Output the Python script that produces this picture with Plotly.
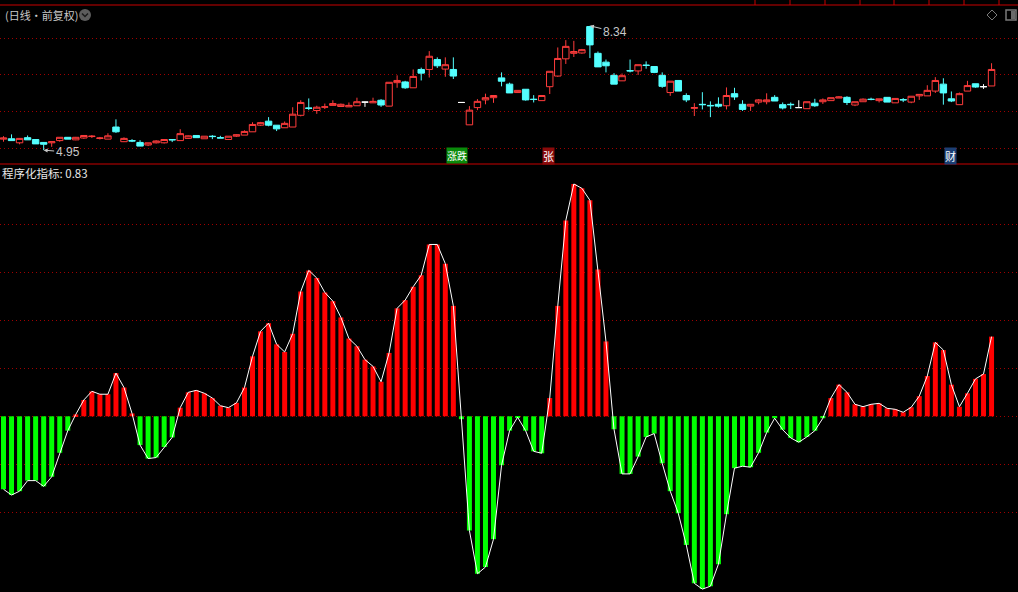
import plotly.graph_objects as go

W, H = 1018, 592

# ---------------- data ----------------
opens = [5.25, 5.26, 5.15, 5.29, 5.24, 5.16, 5.15, 5.21, 5.30, 5.23,
         5.28, 5.32, 5.27, 5.25, 5.58, 5.18, 5.21, 5.16, 5.09, 5.15,
         5.15, 5.24, 5.21, 5.27, 5.35, 5.26, 5.33, 5.29, 5.24, 5.33,
         5.36, 5.45, 5.63, 5.74, 5.63, 5.56, 5.58, 5.90, 6.10, 6.03,
         6.12, 6.17, 6.14, 6.13, 6.16, 6.26, 6.24, 6.31, 6.15, 6.79,
         6.81, 6.65, 7.15, 7.15, 7.42, 7.16, 7.15, 6.25, 5.64, 6.11,
         6.32, 6.38, 6.92, 6.75, 6.52, 6.61, 6.34, 6.30, 6.68, 6.97,
         7.44, 7.59, 7.60, 8.32, 7.59, 7.35, 6.99, 6.84, 7.12, 7.11,
         7.27, 7.23, 6.99, 6.52, 6.85, 6.44, 6.09, 6.20, 6.17, 6.20,
         6.16, 6.49, 6.20, 6.15, 6.26, 6.27, 6.39, 6.19, 6.20, 6.11,
         6.08, 6.23, 6.27, 6.30, 6.37, 6.39, 6.18, 6.27, 6.34, 6.30,
         6.39, 6.24, 6.33, 6.26, 6.43, 6.43, 6.56, 6.75, 6.35, 6.19,
         6.56, 6.76, 6.68, 6.70]
highs = [5.33, 5.38, 5.27, 5.35, 5.24, 5.17, 5.18, 5.30, 5.30, 5.31,
         5.36, 5.36, 5.31, 5.41, 5.79, 5.30, 5.25, 5.22, 5.15, 5.22,
         5.24, 5.24, 5.52, 5.35, 5.36, 5.33, 5.36, 5.34, 5.33, 5.38,
         5.49, 5.71, 5.72, 5.85, 5.63, 5.73, 6.12, 6.31, 6.36, 6.16,
         6.22, 6.31, 6.22, 6.25, 6.38, 6.27, 6.38, 6.34, 6.80, 6.99,
         6.84, 7.15, 7.20, 7.65, 7.48, 7.48, 7.48, 6.25, 6.15, 6.34,
         6.49, 6.44, 7.07, 6.79, 6.58, 6.61, 6.45, 6.44, 7.10, 7.75,
         7.95, 7.93, 7.71, 8.34, 7.64, 7.42, 7.05, 7.04, 7.42, 7.28,
         7.37, 7.23, 7.07, 6.83, 6.85, 6.50, 6.23, 6.53, 6.28, 6.39,
         6.66, 6.65, 6.31, 6.20, 6.34, 6.50, 6.45, 6.25, 6.25, 6.31,
         6.27, 6.35, 6.36, 6.38, 6.42, 6.42, 6.27, 6.36, 6.38, 6.35,
         6.39, 6.36, 6.37, 6.42, 6.47, 6.72, 6.94, 6.91, 6.55, 6.52,
         6.84, 6.76, 6.75, 7.32]
lows = [5.18, 5.21, 5.11, 5.23, 5.12, 4.95, 5.04, 5.18, 5.25, 5.22,
        5.26, 5.28, 5.24, 5.25, 5.42, 5.17, 5.17, 5.06, 5.06, 5.13,
        5.13, 5.17, 5.21, 5.26, 5.29, 5.26, 5.25, 5.28, 5.24, 5.31,
        5.36, 5.45, 5.61, 5.60, 5.47, 5.56, 5.58, 5.87, 6.04, 5.94,
        6.07, 6.17, 6.13, 6.13, 6.16, 6.13, 6.24, 6.13, 6.15, 6.65,
        6.62, 6.65, 6.85, 6.93, 7.19, 6.95, 6.89, 6.25, 5.64, 6.04,
        6.20, 6.24, 6.69, 6.51, 6.52, 6.30, 6.25, 6.30, 6.48, 6.95,
        7.30, 7.49, 7.58, 7.46, 7.22, 7.07, 6.75, 6.84, 7.07, 7.00,
        7.17, 7.05, 6.65, 6.43, 6.56, 6.26, 5.88, 6.06, 5.85, 6.11,
        6.06, 6.32, 6.02, 6.02, 6.20, 6.20, 6.29, 6.06, 6.07, 6.11,
        6.08, 6.13, 6.21, 6.30, 6.37, 6.18, 6.15, 6.27, 6.31, 6.25,
        6.26, 6.24, 6.26, 6.23, 6.32, 6.43, 6.51, 6.19, 6.26, 6.19,
        6.56, 6.65, 6.62, 6.70]
closes = [5.28, 5.21, 5.27, 5.23, 5.12, 5.11, 5.18, 5.30, 5.25, 5.30,
          5.35, 5.33, 5.28, 5.34, 5.45, 5.27, 5.20, 5.06, 5.15, 5.20,
          5.24, 5.23, 5.40, 5.34, 5.29, 5.33, 5.32, 5.28, 5.33, 5.37,
          5.46, 5.65, 5.70, 5.63, 5.53, 5.68, 5.93, 6.25, 6.09, 6.12,
          6.13, 6.22, 6.20, 6.17, 6.27, 6.26, 6.28, 6.18, 6.80, 6.85,
          6.65, 6.96, 7.05, 7.51, 7.25, 7.28, 6.97, 6.25, 6.04, 6.28,
          6.38, 6.44, 6.83, 6.51, 6.58, 6.32, 6.33, 6.44, 7.10, 7.45,
          7.78, 7.64, 7.69, 7.82, 7.22, 7.25, 6.75, 6.98, 7.11, 7.28,
          7.26, 7.07, 6.69, 6.83, 6.56, 6.32, 6.11, 6.19, 6.16, 6.15,
          6.44, 6.40, 6.06, 6.20, 6.32, 6.32, 6.29, 6.10, 6.19, 6.11,
          6.27, 6.16, 6.32, 6.38, 6.40, 6.25, 6.27, 6.34, 6.33, 6.35,
          6.26, 6.36, 6.32, 6.42, 6.47, 6.58, 6.85, 6.51, 6.29, 6.49,
          6.71, 6.67, 6.68, 7.15]
flat_days = [45, 57, 99, 122]   # open == close, drawn white

indicator = [-0.76, -0.82, -0.78, -0.67, -0.67, -0.73, -0.63, -0.38, -0.15, 0.02,
             0.17, 0.26, 0.23, 0.23, 0.45, 0.30, 0.03, -0.30, -0.44, -0.43,
             -0.32, -0.22, 0.09, 0.25, 0.27, 0.24, 0.19, 0.11, 0.09, 0.14,
             0.30, 0.625, 0.885, 0.97, 0.75, 0.67, 0.86, 1.30, 1.52, 1.44,
             1.29, 1.20, 1.03, 0.81, 0.73, 0.59, 0.52, 0.36, 0.66, 1.125,
             1.21, 1.35, 1.47, 1.79, 1.79, 1.59, 1.15, -0.03, -1.19, -1.64,
             -1.57, -1.28, -0.51, -0.15, -0.01, -0.15, -0.365, -0.385, 0.19, 1.15,
             2.04, 2.42, 2.375, 2.25, 1.53, 0.78, -0.135, -0.60, -0.60, -0.42,
             -0.215, -0.18, -0.49, -0.78, -1.01, -1.34, -1.74, -1.80, -1.77, -1.54,
             -1.02, -0.54, -0.52, -0.53, -0.38, -0.17, -0.02, -0.14, -0.225, -0.27,
             -0.215, -0.15, -0.02, 0.19, 0.33, 0.25, 0.125, 0.10, 0.125, 0.135,
             0.083, 0.073, 0.042, 0.094, 0.21, 0.42, 0.77, 0.69, 0.33, 0.10,
             0.24, 0.39, 0.44, 0.83]

price_grid = [5, 6, 7, 8]
ind_grid = [-1.0, -0.5, 0.0, 0.5, 1.0, 1.5, 2.0]
low_idx, low_val = 5, 4.95
high_idx, high_val = 73, 8.34
title_text = "(日线·前复权)"
ind_label = "程序化指标: 0.83"

# ---------------- styles ----------------
RED = "#ff3c3c"
CYAN = "#54ffff"
BAR_RED = "#ff0000"
BAR_GREEN = "#00ff00"
GRID = "#a00000"
SEP = "#c80000"
TXT = "#c8c8c8"

def px(x):
    return x / W

def py(y):
    return 1 - y / H

n = len(closes)
idx = list(range(n))
normal = [i for i in idx if i not in flat_days]

fig = go.Figure()

fig.add_trace(go.Candlestick(
    x=normal,
    open=[opens[i] for i in normal], high=[highs[i] for i in normal],
    low=[lows[i] for i in normal], close=[closes[i] for i in normal],
    increasing=dict(line=dict(color=RED, width=1), fillcolor="#000000"),
    decreasing=dict(line=dict(color=CYAN, width=1), fillcolor=CYAN),
    whiskerwidth=0, xaxis="x", yaxis="y", hoverinfo="skip"))
fig.add_trace(go.Candlestick(
    x=flat_days,
    open=[opens[i] for i in flat_days], high=[highs[i] for i in flat_days],
    low=[lows[i] for i in flat_days], close=[closes[i] for i in flat_days],
    increasing=dict(line=dict(color="#ffffff", width=1), fillcolor="#ffffff"),
    decreasing=dict(line=dict(color="#ffffff", width=1), fillcolor="#ffffff"),
    whiskerwidth=0, xaxis="x", yaxis="y", hoverinfo="skip"))

fig.add_trace(go.Bar(
    x=idx, y=indicator, width=0.62,
    marker=dict(color=[BAR_RED if v >= 0 else BAR_GREEN for v in indicator], line=dict(width=0)),
    xaxis="x2", yaxis="y2", hoverinfo="skip"))
fig.add_trace(go.Scatter(
    x=idx, y=indicator, mode="lines", line=dict(color="#ffffff", width=1),
    xaxis="x2", yaxis="y2", hoverinfo="skip"))

# pixel mapping: bar i centred at 3.5 + 8.033*i
step = 8.033
x0 = -3.5 / step
x1 = x0 + W / step
split = py(164)
top = py(5)

axis_common = dict(showgrid=False, zeroline=False, showticklabels=False, showline=False, ticks="")
fig.update_layout(
    width=W, height=H, margin=dict(l=0, r=0, t=0, b=0),
    paper_bgcolor="#000000", plot_bgcolor="#000000", showlegend=False,
    boxgap=0.2, boxgroupgap=0,
    xaxis=dict(domain=[0, 1], range=[x0, x1], anchor="y", rangeslider=dict(visible=False), **axis_common),
    xaxis2=dict(domain=[0, 1], range=[x0, x1], anchor="y2", **axis_common),
    yaxis=dict(domain=[split, top], range=[5 - 15.7 / 36.67, 5 + 143.3 / 36.67],
               tickvals=price_grid, showgrid=True, gridcolor=GRID, griddash="1px,3px", gridwidth=1,
               zeroline=False, showticklabels=False, ticks=""),
    yaxis2=dict(domain=[0, split], range=[-(592 - 416.3) / 96, (416.3 - 164) / 96],
                tickvals=ind_grid, showgrid=True, gridcolor=GRID, griddash="1px,3px", gridwidth=1,
                zeroline=False, showticklabels=False, ticks=""),
    font=dict(family="Noto Sans CJK SC, DejaVu Sans", color=TXT),
)

shapes = []
# separators
shapes.append(dict(type="line", xref="paper", yref="paper", x0=0, x1=1, y0=top, y1=top,
                   line=dict(color=SEP, width=1)))
shapes.append(dict(type="line", xref="paper", yref="paper", x0=0, x1=1, y0=split, y1=split,
                   line=dict(color=SEP, width=1)))
for xv in [755, 790, 825, 860, 894, 929, 964, 999]:
    shapes.append(dict(type="line", xref="paper", yref="paper", x0=px(xv), x1=px(xv), y0=py(0), y1=py(5),
                       line=dict(color=SEP, width=1)))
# round gray button with chevron
shapes.append(dict(type="circle", xref="paper", yref="paper", x0=px(79), x1=px(91), y0=py(21), y1=py(9),
                   fillcolor="#5c5c5c", line=dict(width=0)))
shapes.append(dict(type="path", xref="paper", yref="paper",
                   path=f"M {px(82)},{py(13.5)} L {px(85)},{py(16.5)} L {px(88)},{py(13.5)}",
                   line=dict(color="#1a1a1a", width=1.5)))
# diamond icon
shapes.append(dict(type="path", xref="paper", yref="paper",
                   path=f"M {px(992)},{py(10)} L {px(997)},{py(15)} L {px(992)},{py(20)} L {px(987)},{py(15)} Z",
                   line=dict(color="#7a7a7a", width=1)))
# panel icon
shapes.append(dict(type="rect", xref="paper", yref="paper", x0=px(1006), x1=px(1016), y0=py(20), y1=py(10),
                   line=dict(color="#7a7a7a", width=1.5), fillcolor="#000000"))
shapes.append(dict(type="rect", xref="paper", yref="paper", x0=px(1011), x1=px(1015), y0=py(19), y1=py(11),
                   line=dict(width=0), fillcolor="#6a6a6a"))
fig.update_layout(shapes=shapes)

ann = []
ann.append(dict(text=title_text, xref="paper", yref="paper", x=px(3), y=py(15), xanchor="left", yanchor="middle",
                showarrow=False, font=dict(size=11, color=TXT, family="Noto Sans CJK SC")))
ann.append(dict(text=ind_label, xref="paper", yref="paper", x=px(0), y=py(173), xanchor="left", yanchor="middle",
                showarrow=False, font=dict(size=11.5, color="#e8e8e8", family="Noto Sans CJK SC")))
ann.append(dict(text=f"{low_val:.2f}", xref="x", yref="y", x=low_idx, y=low_val, ax=24, ay=2,
                showarrow=True, arrowhead=2, arrowsize=0.8, arrowwidth=1, arrowcolor=TXT, standoff=0,
                font=dict(size=12, color=TXT, family="Liberation Sans")))
ann.append(dict(text=f"{high_val:.2f}", xref="x", yref="y", x=high_idx, y=high_val, ax=25, ay=6,
                showarrow=True, arrowhead=2, arrowsize=0.8, arrowwidth=1, arrowcolor=TXT, standoff=0,
                font=dict(size=12, color=TXT, family="Liberation Sans")))
# event tags
tags = [("涨跌", 457, "#0a8a0a", 10), ("张", 548.5, "#8a0a0a", 11), ("财", 950.5, "#1c3f74", 11)]
for t, xc, bg, fs in tags:
    ann.append(dict(text=t, xref="paper", yref="paper", x=px(xc), y=py(156), xanchor="center", yanchor="middle",
                    showarrow=False, bgcolor=bg, borderpad=0,
                    font=dict(size=fs, color="#ffffff", family="Noto Sans CJK SC")))
fig.update_layout(annotations=ann)

fig.write_html("out.html", config={"displayModeBar": False},
               post_script="document.body.style.margin='0';document.body.style.overflow='hidden';")
